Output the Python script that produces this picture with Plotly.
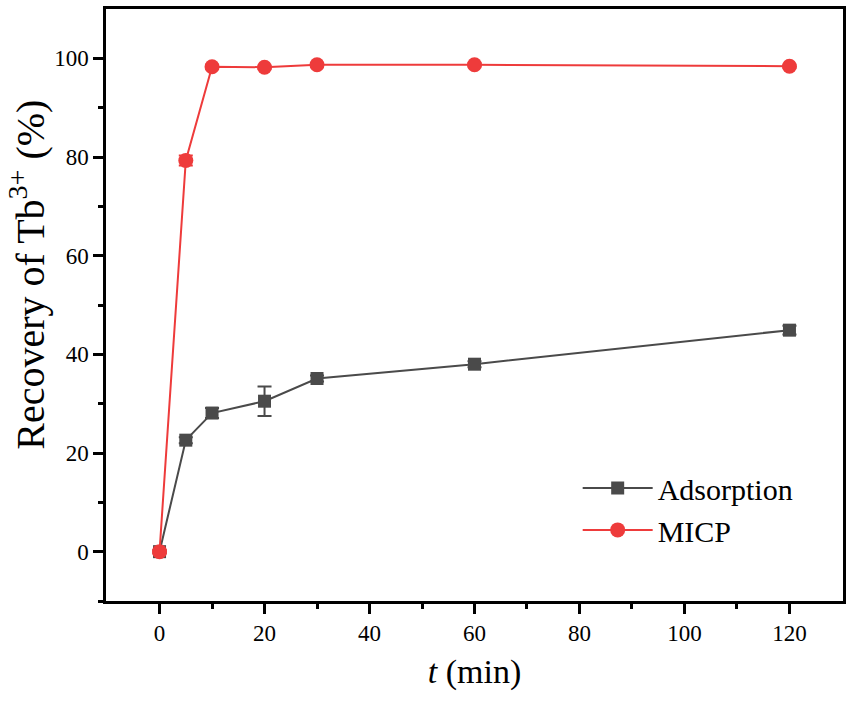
import plotly.graph_objects as go

# time points (min)
t = [0, 5, 10, 20, 30, 60, 120]

# recovery of Tb3+ (%)
adsorption = [0, 22.6, 28.1, 30.5, 35.1, 38.0, 44.9]
adsorption_err = [0.3, 0.6, 1.0, 3.0, 0.6, 0.6, 0.9]
micp = [0, 79.3, 98.3, 98.2, 98.7, 98.7, 98.4]
micp_err = [0.3, 1.0, 0.4, 0.3, 0.3, 0.3, 0.3]

gray = "#4a4a4a"
red = "#ee3b3b"
serif = "Liberation Serif"

fig = go.Figure()
fig.add_trace(go.Scatter(
    x=t, y=adsorption, name="Adsorption", mode="lines+markers",
    line=dict(color=gray, width=2),
    marker=dict(symbol="square", size=13, color=gray),
    error_y=dict(type="data", array=adsorption_err, color=gray, thickness=2, width=7),
))
fig.add_trace(go.Scatter(
    x=t, y=micp, name="MICP", mode="lines+markers",
    line=dict(color=red, width=2),
    marker=dict(symbol="circle", size=15, color=red),
    error_y=dict(type="data", array=micp_err, color=red, thickness=2, width=7),
))

axis_common = dict(
    showline=True, linecolor="black", linewidth=2.5, mirror=True,
    ticks="outside", ticklen=10, tickwidth=2.5, tickcolor="black",
    showgrid=False, zeroline=False, automargin=False,
    tickfont=dict(family=serif, size=23, color="black"),
)
minor_ticks = dict(ticks="outside", ticklen=5, tickwidth=2.5, tickcolor="black")

fig.update_xaxes(
    range=[-10.2, 130.2], tickvals=[0, 20, 40, 60, 80, 100, 120],
    minor=dict(tickvals=[10, 30, 50, 70, 90, 110], **minor_ticks),
    title=dict(text="<i>t</i> (min)", font=dict(family=serif, size=34, color="black"),
               standoff=14),
    **axis_common,
)
fig.update_yaxes(
    range=[-10, 110], tickvals=[0, 20, 40, 60, 80, 100],
    minor=dict(tickvals=[-10, 10, 30, 50, 70, 90], **minor_ticks),
    **axis_common,
)

# y title sits a bit above the plot centre in the original, so place it by hand
fig.add_annotation(
    text="Recovery of Tb<sup>3+</sup> (%)", textangle=-90,
    xref="paper", yref="paper", x=-0.106, y=0.551,
    xanchor="center", yanchor="middle", showarrow=False,
    font=dict(family=serif, size=40, color="black"),
)

fig.update_layout(
    width=851, height=704,
    margin=dict(l=106, r=8, t=9, b=103),
    plot_bgcolor="white", paper_bgcolor="white",
    showlegend=True,
    legend=dict(
        x=0.64, y=0.235, xanchor="left", yanchor="top",
        font=dict(family=serif, size=30, color="black"),
        bgcolor="rgba(0,0,0,0)", itemwidth=70, tracegroupgap=0,
    ),
)

# page body has a default 8px margin; drop it so the figure sits at 0,0
fig.write_html("out.html", config={"displayModeBar": False},
               post_script="document.body.style.margin='0';")
